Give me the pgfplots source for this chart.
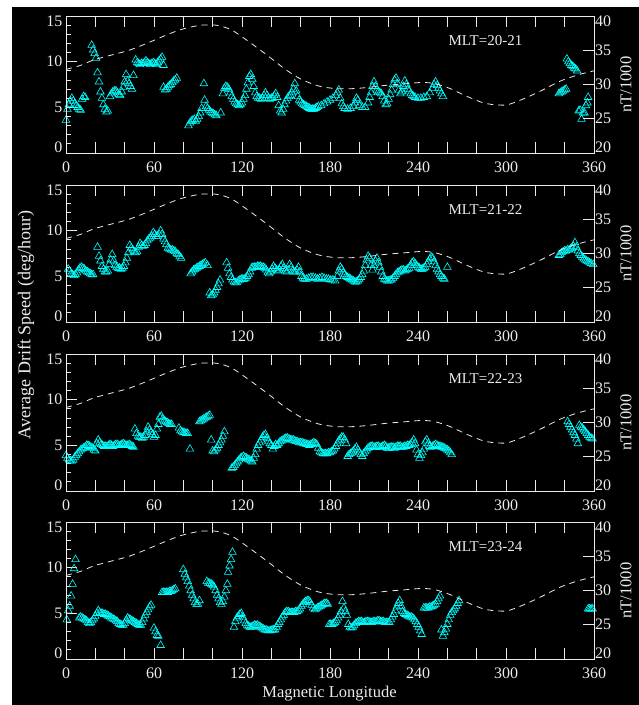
\documentclass[border=0pt]{standalone}
\usepackage{pgfplots}
\pgfplotsset{compat=1.18}
\usepackage{fontspec}
\setmainfont{Liberation Serif}
\definecolor{fg}{RGB}{235,235,235}
\definecolor{dat}{RGB}{0,255,255}
\pgfplotsset{
 panel/.style={width=528pt,height=137pt,scale only axis,
   xmin=0,xmax=360,ymin=0,ymax=15,
   axis line style={fg,line width=0.8pt},
   tick style={fg,line width=0.8pt},
   major tick length=11pt, minor tick length=5pt,
   tick align=inside,
   xtick={0,20,...,360},
   xticklabels={0,,,60,,,120,,,180,,,240,,,300,,,360},
   xtick pos=both, xticklabel pos=lower,
   ytick={0,5,10,15},
   minor ytick={1,2,3,4,6,7,8,9,11,12,13,14},
   ytick pos=left,
   yticklabels={\raisebox{6pt}[\height][\depth]{0},5,10,\raisebox{-5pt}[\height][\depth]{15}},
   tick label style={text=fg,font=\fontsize{16}{16}\selectfont},
   xticklabel shift=5pt,
   clip=false,
 },
 rpanel/.style={width=528pt,height=137pt,scale only axis,
   xmin=0,xmax=360,ymin=20,ymax=40,
   axis line style={fg,line width=0.8pt},
   tick style={fg,line width=0.8pt},
   major tick length=11pt,
   tick align=inside,
   xtick=\empty,
   ytick={20,25,30,35,40},
   ytick pos=right, yticklabel pos=right,
   yticklabels={\raisebox{6pt}[\height][\depth]{20},25,30,35,\raisebox{-5pt}[\height][\depth]{40}},
   tick label style={text=fg,font=\fontsize{16}{16}\selectfont},
   yticklabel shift=-2.5pt,
   clip=false,
 },
 dots/.style={only marks, mark=triangle, mark size=4.4pt, color=dat, mark options={line width=0.6pt}},
 field/.style={fg, line width=0.8pt, dash pattern=on 6pt off 5pt, smooth},
}
\newcommand{\fieldcurve}{\addplot[field] coordinates {(0,32.2)(10,32.8)(19,33.6)(31,34.3)(43,35.0)(55,36.0)(66,37.0)(78,38.0)(90,38.6)(97,38.7)(104,38.6)(113,37.95)(125,36.2)(137,34.3)(149,32.3)(160,30.8)(172,29.8)(184,29.4)(196,29.4)(207,29.6)(219,29.9)(231,30.1)(243,30.3)(252,30.1)(262,29.4)(273,28.3)(285,27.3)(295,27.0)(302,27.1)(313,28.0)(325,29.2)(337,30.5)(349,31.4)(360,32.0)};}
\newcommand{\nTlabel}{\node[rotate=90,text=fg,font=\fontsize{16.5}{16.5}\selectfont] at (axis description cs:1.0606,0.5) {nT/1000};}
\begin{document}
\begin{tikzpicture}
\fill[white] (0pt,0pt) rectangle (639pt,-705pt);
\fill[black] (12pt,-7pt) rectangle (639pt,-705pt);
% ---------- panel 1
\begin{axis}[panel, name=p1, at={(66pt,-153pt)}, anchor=south west]
\addplot[dots] coordinates {(0,3.6)(1,4.8)(2,5.3)(3,5.7)(4,6.0)(5,5.7)(6,5.4)(7,5.2)(8,5.0)(9,4.8)(10,4.7)(11,5.9)(12,6.2)(13,6.1)
(17.5,11.8)(18.5,11.3)(19.5,10.9)(20.5,10.4)(21.5,8.8)(22.5,7.8)(23.5,6.7)(24.5,6.0)(25.5,5.3)(26.5,4.8)(27.5,4.5)(28.5,4.6)
(30,6.2)(31,6.5)(32,6.7)(33,6.8)(34,6.8)(35,6.6)(36,6.4)(37,6.3)(38,6.7)(39,7.2)(40,7.8)(41,8.6)(42,7.9)(43,7.6)(44,7.3)(45,7.0)(46,8.5)
(47.5,10.2)(48.5,9.9)(49.5,9.8)(50.5,9.7)(51.5,9.8)(52.5,9.8)(53.5,9.9)(54.5,10.1)(55.5,9.9)(56.5,9.8)(57.5,9.7)(58.5,9.8)(59.5,9.9)(60.5,9.8)(61.5,9.7)(62.5,9.9)(63.5,10.1)(64.5,10.3)(65.5,10.5)(66.5,9.6)
(66.5,7.2)(67.5,6.9)(68.5,7.0)(69.5,7.2)(70.5,7.4)(71.5,7.5)(72.5,7.7)(73.5,7.9)(74.5,8.0)(75.5,8.2)
(83.5,3.0)(84.5,3.3)(85.5,3.5)(86.5,3.6)(87.5,3.7)(88.5,3.5)(89.5,3.7)(90.5,4.0)(91.5,4.4)(92.5,4.9)(94,7.6)(94.5,5.8)(95.5,5.1)(96.5,4.9)(97.5,4.7)(98.5,4.5)(99.5,4.4)(100.5,4.3)(101.5,4.2)(102.5,4.1)(105.5,4.4)
(107,6.5)(108,7.1)(109,7.3)(110,7.2)(111,7.0)(112,6.6)(113,6.2)(114,5.9)(115,5.6)(116,5.4)(117,5.3)(118,5.2)(119,5.3)(120,5.5)(121,5.9)(122,6.3)(123,7.0)(124,7.7)(125,8.4)(126,8.6)(127,8.1)(128,7.3)(129,6.6)(130,6.2)
(131,6.0)(132,6.0)(133,5.9)(134,6.0)(135,6.3)(136,6.6)(137,6.3)(138,6.0)(139,5.9)(140,6.0)(141,6.0)(142,6.3)(143,6.5)(144,6.1)(145,5.2)(146,4.6)(147,4.4)(148,4.8)(149,5.3)(150,5.7)(151,6.0)(152,6.2)(153,6.3)(154,6.6)(155,7.0)(156,7.6)(157,6.8)(158,6.2)(159,5.8)(160,5.6)
(161,5.4)(162,5.3)(163,5.2)(164,5.1)(165,5.0)(166,4.9)(167,4.8)(168,4.8)(169,4.8)(170,4.9)(171,5.0)(172,5.1)(174,5.2)(176,5.4)(178,5.6)(180,5.8)(182,6.0)(184,6.3)(185,6.6)(186,6.9)(187,6.0)(188,5.4)(189,5.1)(190,4.9)(192,4.8)(194,4.9)(196,5.1)(197,5.5)(198,6.0)(199,5.8)(200,5.2)
(202,5.0)(204,5.0)(206,5.5)(207,6.1)(208,6.6)(209,7.3)(210,7.8)(211,7.3)(212,6.9)(213,6.7)(214,6.6)(215,6.5)(216,6.2)(217,5.7)(218,5.3)(219,5.4)(220,5.9)(221,6.4)(222,6.9)(223,7.5)(224,8.0)(225,8.2)(226,7.6)(227,6.9)(228,6.5)(229,6.7)(230,7.3)(231,7.9)(232,7.5)(233,7.0)(234,6.8)(235,6.5)(236,6.3)(237,6.2)(238,6.1)(240,6.0)(242,6.0)(244,6.1)(246,6.2)(248,6.6)(250,7.1)(251,7.5)(252,7.8)(253,7.4)(254,7.1)(255,6.8)(256,6.5)(257,6.2)
(336,6.5)(337,6.6)(338,6.7)(339,6.8)(340,6.9)(341,7.0)(341.5,10.3)(342.5,10.0)(343.5,9.8)(344.5,9.6)(345.5,9.5)(346.5,9.3)(347.5,9.2)(348.5,9.0)(349.5,4.6)(350.5,4.7)(351.5,3.7)(352.5,4.4)(353.5,4.4)(354.5,5.2)(355.5,5.5)(356,6.1)};
\node[anchor=base,text=fg,font=\fontsize{15}{15}\selectfont] at (axis cs:286,11.75) {MLT=20-21};
\end{axis}
\begin{axis}[rpanel, at={(p1.south west)}, anchor=south west]
\fieldcurve
\nTlabel
\end{axis}
% ---------- panel 2
\begin{axis}[panel, name=p2, at={(66pt,-322pt)}, anchor=south west]
\addplot[dots] coordinates {(1.5,5.8)(2.5,5.6)(3.5,5.3)(4.5,5.2)(5.5,5.1)(6.5,5.2)(7.5,5.4)(8.5,5.7)(9.5,5.9)(10.5,6.0)(11.5,5.9)(12.5,5.8)(13.5,5.6)(14.5,5.5)(15.5,5.4)(16.5,5.3)(17.5,5.2)(18.5,5.2)
(21.5,8.2)(22.5,7.2)(23.5,6.7)(24.5,6.1)(25.5,5.8)(26.5,5.5)(27.5,5.5)(28.5,5.6)(29.5,6.3)(30.5,6.8)(31.5,7.4)(32.5,6.7)(33.5,6.2)(34.5,6.0)(35.5,5.9)(36.5,5.9)(37.5,5.8)(38.5,5.9)(39.5,6.1)(40.5,6.5)(41.5,7.0)(42.5,7.6)(43.5,8.4)(44.5,8.1)(45.5,7.9)(46.5,7.7)(47.5,7.6)(48.5,7.7)(49.5,8.2)(50.5,8.6)(51.5,8.4)(52.5,8.3)(53.5,8.4)(54.5,8.6)(55.5,8.9)(56.5,9.1)(57.5,9.2)(58.5,9.4)(59.5,9.8)(60.5,9.6)(61.5,9.4)(62.5,9.4)(63.5,9.6)(64.5,10.0)(65.5,9.6)(66.5,9.1)(67.5,8.8)(68.5,8.5)(69.5,8.1)(70.5,8.0)(71.5,7.9)(72.5,7.9)(73.5,7.8)(74.5,7.7)(75.5,7.5)(76.5,7.4)(77.5,7.2)(78.5,7.0)
(85,5.3)(86,5.5)(87,5.7)(88,5.8)(89,5.9)(90,6.0)(91,6.1)(92,6.2)(93,6.3)(94,6.4)(95,6.5)(96.5,6.2)
(98,3.2)(99,2.9)(100,3.0)(101,3.2)(102,3.5)(103,3.8)(104,4.2)(105,4.6)
(109.5,6.5)(110.5,5.9)(111.5,5.3)(112.5,4.9)(113.5,4.6)(114.5,4.4)(115.5,4.3)(116.5,4.3)(117.5,4.5)(118.5,4.6)(119.5,4.7)(120.5,4.7)(121.5,4.7)(122.5,4.8)(123.5,5.0)(124.5,5.2)(125.5,5.5)(126.5,5.9)(127.5,6.0)(128.5,6.0)(129.5,6.0)(130.5,6.1)(131.5,6.1)(132.5,6.1)(133.5,6.0)(134.5,6.0)(135.5,5.9)(136.5,5.7)(137.5,5.4)(138.5,5.3)(139.5,5.5)(140.5,5.8)(141.5,6.1)(142.5,5.9)(143.5,5.7)(144.5,5.6)(145.5,5.7)(146.5,6.1)(147.5,6.3)(148.5,5.9)(149.5,5.6)(150.5,5.5)(151.5,5.7)(152.5,6.3)(153.5,6.0)(154.5,5.6)(155.5,5.5)(156.5,5.5)(157.5,5.7)(158.5,6.0)(159.5,5.5)(160.5,5.0)(161.5,4.8)(162.5,4.7)(164,4.7)(165.5,4.8)(167,4.9)(168.5,4.9)(170,4.8)(171.5,4.7)(173,4.8)(174.5,4.9)(176,4.8)(177.5,4.7)(179,4.7)(180.5,4.6)(182,4.6)(183.5,4.5)
(185,5.0)(186,5.6)(187,6.0)(188,5.8)(189,5.4)(190,5.2)(191,5.0)(192,4.9)(193,4.8)(194,4.7)(195,4.6)(196,4.5)(197,4.4)(198,4.4)(199,4.5)(200,4.7)(201,4.9)(202,5.2)
(203,5.6)(204,6.2)(205,6.8)(206,7.2)(207,7.0)(208,6.2)(209,5.7)(210,6.2)(211,6.7)(212,7.0)(213,6.5)(214,6.0)(215,5.5)(216,5.0)(217,4.7)(218,4.6)(219,4.5)(220,4.5)(221,4.6)(222,4.6)(223,4.8)(224,5.0)(225,5.2)(226,5.4)(227,5.5)(228,5.6)(229,5.7)(230,5.7)(231,5.6)(232,5.7)(233,5.8)(234,5.9)(235,6.2)(236,6.5)(237,6.6)(238,6.4)(239,6.2)(240,6.0)(241,5.9)(242,5.8)(243,5.8)(244,5.9)(245,6.0)(246,6.3)(247,6.6)(248,6.9)(249,7.1)(250,7.0)(251,6.6)(252,6.2)(253,5.8)(254,5.5)(255,5.2)(256,5.0)(257,4.8)(258,4.7)(260,6.0)
(336,7.3)(337,7.4)(338,7.6)(339,7.7)(340,7.8)(341,7.8)(342,7.9)(343,7.9)(344,8.0)(345,8.1)(346,8.3)(347,8.7)(348,8.2)(349,7.8)(350,7.5)(351,7.3)(352,7.1)(353,6.9)(354,6.8)(355,6.7)(356,6.6)(357,6.5)(358,6.4)(359.5,6.3)};
\node[anchor=base,text=fg,font=\fontsize{15}{15}\selectfont] at (axis cs:286,11.75) {MLT=21-22};
\end{axis}
\begin{axis}[rpanel, at={(p2.south west)}, anchor=south west]
\fieldcurve
\nTlabel
\end{axis}
% ---------- panel 3
\begin{axis}[panel, name=p3, at={(66pt,-491pt)}, anchor=south west]
\addplot[dots] coordinates {(0,3.9)(1,3.6)(2,3.4)(3,3.3)(4,3.3)(5,3.4)(6,3.7)(7,3.9)(8,4.1)(9,4.3)(10,4.5)(11,4.6)(12,4.7)(13,4.8)(14,5.0)(15,5.0)(16,4.9)(17,4.8)(18,4.7)(19,4.5)(20,4.4)(21,5.2)(22,5.6)(23,5.3)(24,5.1)(25,5.0)(26,4.9)(27,4.9)(28,4.9)(29,5.0)(30,5.1)(31,5.0)(32,4.9)(33,5.0)(34,5.1)(35,5.1)(36,5.0)(37,5.0)(38,5.1)(39,5.2)(40,5.1)(41,5.0)(42,5.0)(43,5.1)(44,5.0)(45,4.9)(46,4.8)
(47,6.8)(48,6.3)(49,6.0)(50,5.9)(51,5.9)(52,5.8)(53,5.9)(54,6.1)(55,6.5)(56,7.0)(57,6.7)(58,6.4)(59,6.2)(60,5.9)(61,6.1)(62,6.8)(63,7.3)(64,8.1)(65,8.2)(66,7.9)(67,7.7)(68,7.6)(69,7.5)(70,7.4)(71,7.3)(72,7.3)
(77,6.9)(78,6.6)(79,6.5)(80,6.4)(81,6.4)(82,6.3)(83,6.3)(84.5,4.6)(91,7.6)(92,7.7)(93,7.8)(94,7.9)(95,8.0)(96,8.1)(97,8.2)(98,8.3)(99,5.6)(100,4.4)(101,4.3)(102,4.5)(103,4.7)(104,5.0)(105,5.3)(106,5.6)(107,6.0)(108,6.5)
(113,2.5)(114,2.6)(115,2.8)(116,3.0)(117,3.2)(118,3.4)(119,3.6)(120,3.7)(121,3.8)(122,3.7)(123,3.6)(124,3.5)(125,3.4)(126,3.3)(127,3.2)(128,3.6)(129,4.0)(130,4.6)(131,5.0)(132,5.3)(133,5.6)(134,5.9)(135,6.1)(136,6.2)(137,5.8)(138,5.4)(139,5.2)(140,5.0)(141,4.6)(142,4.9)(143,5.1)(144,5.0)(145,5.2)(146,5.4)(147,5.5)(148,5.6)(149,5.7)(150,5.8)(151,5.8)(152,5.7)(153,5.6)(154,5.6)(155,5.6)(156,5.5)(157,5.4)(158,5.4)(159,5.3)(160,5.3)(161,5.3)(162,5.2)(163,5.2)(164,5.1)(165,5.1)(166,5.0)(167,5.1)(168,5.2)(169,5.3)(170,5.2)(171,5.1)(172,4.7)(173,4.3)(174,4.2)(175,4.1)(176,4.1)(177,4.1)(178,4.1)(179,4.2)(180,4.2)(181,4.3)(182,4.4)(183,4.6)(184,4.9)(185,5.2)(186,5.5)(187,5.7)(188,5.9)(189,5.9)(190,5.6)(191,5.2)
(192,3.8)(193,4.0)(194,4.1)(195,4.2)(196,4.4)(197,4.6)(198,4.8)(199,4.5)(200,4.2)(201,4.0)(202,3.8)(203,4.1)(204,4.3)(205,4.5)(206,4.7)(207,4.8)(208,4.9)(209,4.9)(210,4.8)(211,4.8)(212,4.9)(213,4.9)(214,4.8)(215,4.8)(216,4.9)(217,5.0)(218,4.9)(219,4.7)(220,4.7)(221,4.8)(222,4.8)(223,4.8)(224,4.7)(225,4.8)(226,4.9)(227,4.9)(228,4.9)(229,4.8)(230,4.8)(231,4.9)(232,4.9)(233,5.0)(234,5.0)(235,5.1)(236,5.3)(237,5.6)(238,5.2)(239,4.5)(240,4.0)(241,3.6)(242,3.9)(243,4.2)(244,4.6)(245,5.4)(246,5.6)(247,5.2)(248,4.9)(249,4.8)(250,4.9)(251,5.0)(252,5.1)(253,5.0)(254,4.9)(255,4.9)(256,4.8)(257,4.8)(258,4.7)(259,4.6)(260,4.5)(261,4.4)(262,4.2)(263,4.0)
(342,7.6)(343,7.3)(344,7.0)(345,6.7)(346,6.4)(347,6.1)(348,5.7)(349,5.2)(350,7.2)(351,7.0)(352,6.9)(353,6.7)(354,6.5)(355,6.3)(356,6.1)(357,5.9)(358,5.8)(359,5.7)};
\node[anchor=base,text=fg,font=\fontsize{15}{15}\selectfont] at (axis cs:286,11.75) {MLT=22-23};
\end{axis}
\begin{axis}[rpanel, at={(p3.south west)}, anchor=south west]
\fieldcurve
\nTlabel
\end{axis}
% ---------- panel 4
\begin{axis}[panel, name=p4, at={(66pt,-659pt)}, anchor=south west]
\addplot[dots] coordinates {(0.5,4.3)(1.5,5.3)(2.5,5.8)(3.5,6.9)(4.5,8.2)(5.5,9.9)(6.5,10.9)
(9,4.5)(10,4.6)(11,4.5)(12,4.4)(13,4.3)(14,4.2)(15,4.0)(16,3.9)(17,4.0)(18,4.2)(19,4.4)(20,4.7)(21,5.0)(22,5.3)(23,5.1)(24,5.0)(25,5.0)(26,4.9)(27,4.9)(28,4.8)(29,4.7)(30,4.6)(31,4.5)(32,4.4)(33,4.3)(34,4.2)(35,4.1)(36,3.9)(37,3.8)(38,3.7)(39,3.7)(40,3.9)(41,4.2)(42,4.5)(43,4.4)(44,4.3)(45,4.2)(46,4.1)(47,4.0)(48,3.9)(49,3.8)(50,3.7)(51,3.7)(52,4.0)(53,4.4)(54,4.8)(55,5.1)(56,5.4)(57,5.7)(58,5.9)
(60,3.4)(61,3.0)(62,2.6)(63,2.5)(64.5,1.5)
(65.5,7.3)(66.5,7.3)(67.5,7.3)(68.5,7.3)(69.5,7.3)(70.5,7.4)(71.5,7.4)(72.5,7.5)(73.5,7.6)(74.5,7.7)
(80,9.8)(81,9.3)(82,8.9)(83,8.5)(84,8.0)(85,7.5)(86,7.0)(87,6.6)(88,6.2)(89,6.0)(90,6.0)(91,6.4)
(96,8.5)(97,8.3)(98,8.3)(99,8.2)(100,8.1)(101,7.9)(102,7.5)(103,7.0)(104,6.6)(105,6.2)(106,6.0)(107,6.3)(108,6.8)(109,7.5)(110,8.2)(110.5,9.5)(111.5,10.2)(112.5,10.9)(113.5,11.7)
(114.5,3.5)(115.5,4.1)(116.5,4.5)(117.5,4.7)(118.5,4.9)(119.5,5.0)(120.5,4.6)(121.5,4.2)(122.5,3.9)(123.5,3.7)(124.5,3.6)(125.5,3.5)(126.5,3.5)(127.5,3.6)(128.5,3.7)(129.5,3.7)(130.5,3.7)(131.5,3.6)(132.5,3.5)(133.5,3.4)(134.5,3.3)(135.5,3.2)(136.5,3.2)(137.5,3.1)(138.5,3.1)(139.5,3.1)(140.5,3.2)(141.5,3.2)(142.5,3.2)(143.5,3.5)(144.5,3.8)(145.5,4.0)(146.5,4.3)(147.5,4.6)(148.5,4.8)(149.5,5.1)(150.5,5.2)(151.5,5.2)(152.5,5.1)(153.5,5.1)(154.5,5.1)(155.5,5.1)(156.5,5.2)(157.5,5.2)(158.5,5.3)(159.5,5.5)(160.5,5.8)(161.5,6.0)(162.5,6.2)(163.5,6.3)(164.5,6.4)(165.5,6.4)(166.5,6.2)(167.5,5.9)(168.5,5.6)(169.5,5.4)(170.5,5.5)(171.5,5.6)(172.5,5.7)(173.5,5.8)(174.5,5.9)(175.5,6.0)(176.5,6.1)(177.5,6.1)(178.5,6.0)
(179.5,3.8)(180.5,3.8)(181.5,3.8)(182.5,3.9)(183.5,4.0)(184.5,4.2)(185.5,4.5)(186.5,4.8)(187.5,5.2)(188.5,6.3)(189.5,5.6)(190.5,5.2)(191.5,4.8)(192.5,3.8)(193.5,3.5)(194.5,3.4)(195.5,3.5)(196.5,3.7)(197.5,3.9)(198.5,4.0)(199.5,4.1)(200.5,4.1)(201.5,4.1)(202.5,4.0)(203.5,4.0)(204.5,4.1)(205.5,4.1)(206.5,4.1)(207.5,4.0)(208.5,4.0)(209.5,4.1)(210.5,4.1)(211.5,4.1)(212.5,4.2)(213.5,4.2)(214.5,4.1)(215.5,4.1)(216.5,4.1)(217.5,4.0)(218.5,4.0)(219.5,4.0)(220.5,4.0)(221.5,4.3)(222.5,4.6)(223.5,4.9)(224.5,5.3)(225.5,5.7)(226.5,6.1)(227.5,6.4)(228.5,5.8)(229.5,5.2)(230.5,5.0)(231.5,4.9)(232.5,4.8)(233.5,4.7)(234.5,4.6)(235.5,4.6)(236.5,4.5)(237.5,4.3)(238.5,4.1)(239.5,3.8)(240.5,3.5)(241.5,3.1)(242.5,2.7)
(244,5.6)(245,5.6)(246,5.6)(247,5.6)(248,5.7)(249,5.7)(250,5.8)(251,5.9)(252,6.0)(253,6.3)(254,6.6)(255,6.9)
(256,3.2)(257,2.5)(258,2.9)(259,3.3)(260,3.8)(261,4.3)(262,4.8)(263,5.1)(264,5.3)(265,5.5)(266,5.8)(267,6.1)(268,6.4)
(356,5.5)(357,5.5)(358,5.5)(359,5.5)};
\node[anchor=base,text=fg,font=\fontsize{15}{15}\selectfont] at (axis cs:286,11.75) {MLT=23-24};
\end{axis}
\begin{axis}[rpanel, at={(p4.south west)}, anchor=south west]
\fieldcurve
\nTlabel
\end{axis}
\node[anchor=base,text=fg,font=\fontsize{16.5}{16.5}\selectfont] at (329.5pt,-697.3pt) {Magnetic Longitude};
\node[rotate=90,text=fg,font=\fontsize{18}{18}\selectfont] at (26pt,-325pt) {Average Drift Speed (deg/hour)};
\end{tikzpicture}
\end{document}
